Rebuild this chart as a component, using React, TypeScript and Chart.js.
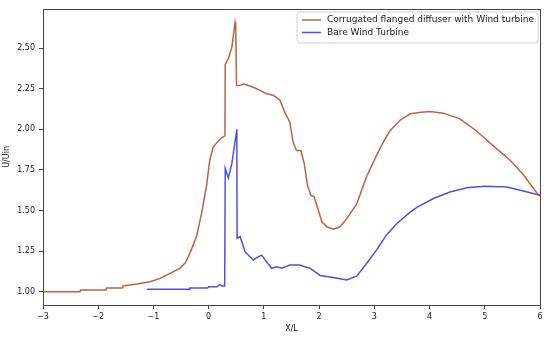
import React, { useEffect, useRef } from "react";
import { Chart, registerables } from "chart.js";

Chart.register(...registerables);

const redX = [-3, -2.33, -2.32, -1.86, -1.85, -1.56, -1.55, -1.30, -1.06, -0.88, -0.70, -0.52, -0.42, -0.34, -0.22, -0.13, -0.04, 0.02, 0.08, 0.18, 0.24, 0.295, 0.30, 0.36, 0.42, 0.477, 0.49, 0.505, 0.56, 0.63, 0.72, 0.84, 0.93, 1.05, 1.17, 1.29, 1.38, 1.47, 1.53, 1.59, 1.67, 1.73, 1.79, 1.85, 1.91, 1.97, 2.05, 2.14, 2.26, 2.38, 2.50, 2.68, 2.86, 3.04, 3.16, 3.28, 3.46, 3.65, 3.85, 4.01, 4.25, 4.55, 4.85, 5.15, 5.46, 5.70, 5.94, 6.0];
const redY = [1.0, 1.0, 1.01, 1.01, 1.022, 1.022, 1.035, 1.047, 1.061, 1.082, 1.113, 1.144, 1.18, 1.236, 1.34, 1.48, 1.65, 1.81, 1.89, 1.93, 1.95, 1.96, 2.40, 2.44, 2.505, 2.658, 2.62, 2.27, 2.27, 2.28, 2.27, 2.255, 2.24, 2.22, 2.21, 2.18, 2.105, 2.044, 1.92, 1.87, 1.87, 1.79, 1.655, 1.594, 1.584, 1.52, 1.43, 1.40, 1.385, 1.40, 1.45, 1.54, 1.71, 1.84, 1.92, 1.99, 2.055, 2.096, 2.105, 2.11, 2.10, 2.065, 1.99, 1.90, 1.81, 1.72, 1.61, 1.59];

const blueX = [-1.12, -0.35, -0.34, -0.02, 0.0, 0.15, 0.2, 0.24, 0.29, 0.30, 0.356, 0.42, 0.51, 0.515, 0.57, 0.66, 0.75, 0.81, 0.87, 0.96, 1.05, 1.14, 1.23, 1.32, 1.47, 1.65, 1.74, 1.84, 2.02, 2.20, 2.38, 2.50, 2.68, 2.86, 3.04, 3.22, 3.41, 3.65, 3.77, 4.07, 4.37, 4.67, 5.0, 5.40, 5.70, 6.0];
const blueY = [1.015, 1.015, 1.022, 1.022, 1.03, 1.03, 1.045, 1.035, 1.035, 1.76, 1.70, 1.79, 2.0, 1.33, 1.34, 1.245, 1.215, 1.195, 1.21, 1.225, 1.184, 1.144, 1.154, 1.144, 1.164, 1.164, 1.154, 1.144, 1.10, 1.09, 1.08, 1.072, 1.096, 1.174, 1.256, 1.35, 1.42, 1.49, 1.52, 1.574, 1.614, 1.64, 1.65, 1.645, 1.62, 1.594];

const seriesNames = ["Corrugated flanged diffuser with Wind turbine", "Bare Wind Turbine"];
const seriesColors = ["#b5654a", "#4f4fe6"];
const xTicks = [-3, -2, -1, 0, 1, 2, 3, 4, 5, 6];
const yTicks = [1.0, 1.25, 1.5, 1.75, 2.0, 2.25, 2.5];

const FONT = "DejaVu Sans";

const framePlugin = {
  id: "frameLegend",
  afterDraw(chart: any) {
    const { ctx, chartArea } = chart;
    const { left, right, top, bottom } = chartArea;
    ctx.save();
    ctx.strokeStyle = "#444";
    ctx.lineWidth = 1;
    ctx.strokeRect(Math.round(left) + 0.5, Math.round(top) + 0.5, Math.round(right - left), Math.round(bottom - top));
    const bx = 297, by = 12, bw = 241, bh = 31, r = 3;
    ctx.beginPath();
    ctx.moveTo(bx + r, by);
    ctx.lineTo(bx + bw - r, by);
    ctx.quadraticCurveTo(bx + bw, by, bx + bw, by + r);
    ctx.lineTo(bx + bw, by + bh - r);
    ctx.quadraticCurveTo(bx + bw, by + bh, bx + bw - r, by + bh);
    ctx.lineTo(bx + r, by + bh);
    ctx.quadraticCurveTo(bx, by + bh, bx, by + bh - r);
    ctx.lineTo(bx, by + r);
    ctx.quadraticCurveTo(bx, by, bx + r, by);
    ctx.closePath();
    ctx.fillStyle = "rgba(255,255,255,0.85)";
    ctx.fill();
    ctx.strokeStyle = "#d0d0d0";
    ctx.stroke();
    ctx.font = `9px '${FONT}'`;
    ctx.textBaseline = "middle";
    ctx.textAlign = "left";
    seriesNames.forEach((name, i) => {
      const y = 20 + i * 12.5;
      ctx.strokeStyle = seriesColors[i];
      ctx.lineWidth = 1.5;
      ctx.beginPath();
      ctx.moveTo(302, y);
      ctx.lineTo(321, y);
      ctx.stroke();
      ctx.fillStyle = "#222";
      ctx.fillText(name, 327, y);
    });
    ctx.restore();
  },
};

export default function App() {
  const ref = useRef<HTMLCanvasElement | null>(null);
  useEffect(() => {
    document.body.style.margin = "0";
    const toPts = (xs: number[], ys: number[]) => xs.map((x, i) => ({ x, y: ys[i] }));
    const chart = new Chart(ref.current as HTMLCanvasElement, {
      type: "line",
      data: {
        datasets: [
          {
            label: seriesNames[0],
            data: toPts(redX, redY),
            borderColor: seriesColors[0],
            borderWidth: 1.5,
            pointRadius: 0,
            tension: 0,
            fill: false,
          },
          {
            label: seriesNames[1],
            data: toPts(blueX, blueY),
            borderColor: seriesColors[1],
            borderWidth: 1.5,
            pointRadius: 0,
            tension: 0,
            fill: false,
          },
        ],
      },
      options: {
        animation: false,
        responsive: false,
        maintainAspectRatio: false,
        layout: { padding: { left: 0, right: 10, top: 8, bottom: 0 } },
        plugins: { legend: { display: false }, tooltip: { enabled: false } },
        scales: {
          x: {
            type: "linear",
            min: -3,
            max: 6,
            afterFit: (s: any) => { s.height = 33; },
            afterBuildTicks: (s: any) => { s.ticks = xTicks.map((v) => ({ value: v })); },
            grid: { drawOnChartArea: false, tickLength: 4, tickColor: "#444", color: "#444" },
            border: { display: false },
            ticks: {
              color: "#222",
              font: { family: FONT, size: 8 },
              padding: 3,
              maxRotation: 0,
              callback: (v: any) => (Number(v) < 0 ? "\u2212" + Math.abs(Number(v)) : String(v)),
            },
            title: { display: true, text: "X/L", color: "#222", font: { family: FONT, size: 8 }, padding: { top: 2, bottom: 4 } },
          },
          y: {
            type: "linear",
            min: 0.918,
            max: 2.743,
            afterFit: (s: any) => { s.width = 43; },
            afterBuildTicks: (s: any) => { s.ticks = yTicks.map((v) => ({ value: v })); },
            grid: { drawOnChartArea: false, tickLength: 4, tickColor: "#444", color: "#444" },
            border: { display: false },
            ticks: {
              color: "#222",
              font: { family: FONT, size: 8 },
              padding: 4,
              callback: (v: any) => Number(v).toFixed(2),
            },
            title: { display: true, text: "U/Uin", color: "#222", font: { family: FONT, size: 8 }, padding: { top: 2, bottom: 0 } },
          },
        },
      },
      plugins: [framePlugin],
    } as any);
    return () => chart.destroy();
  }, []);
  return (
    <div style={{ position: "fixed", left: 0, top: 0, width: 550, height: 338, background: "#fff" }}>
      <canvas ref={ref} width={550} height={338} style={{ width: 550, height: 338 }} />
    </div>
  );
}
